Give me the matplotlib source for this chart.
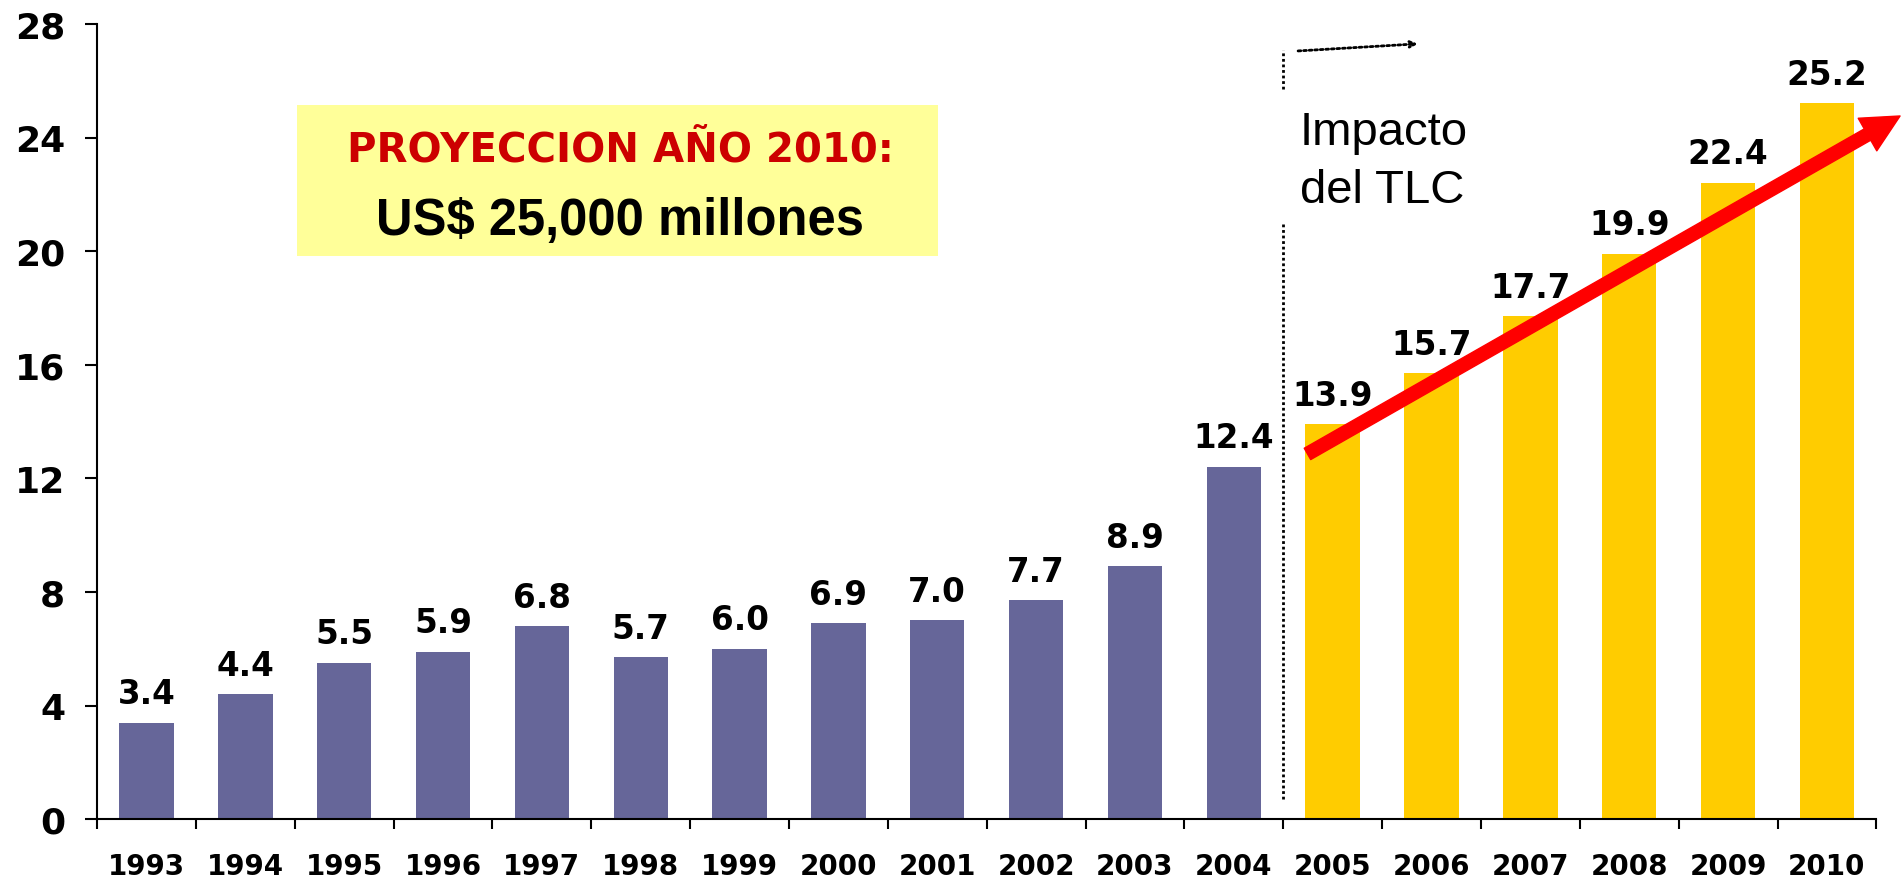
import matplotlib
matplotlib.use("Agg")
import matplotlib.pyplot as plt
from matplotlib.patches import Rectangle, FancyArrowPatch
import numpy as np

# data (US$ billions)
years = [str(y) for y in range(1993, 2011)]
values = [3.4, 4.4, 5.5, 5.9, 6.8, 5.7, 6.0, 6.9, 7.0, 7.7, 8.9, 12.4,
          13.9, 15.7, 17.7, 19.9, 22.4, 25.2]
n_hist = 12  # 1993-2004 actual, 2005-2010 projected
y_ticks = [0, 4, 8, 12, 16, 20, 24, 28]

box_title = "PROYECCION AÑO 2010:"
box_value = "US$ 25,000 millones"
tlc_lines = ["Impacto", "del TLC"]

hist_color = "#666699"
proj_color = "#FFCC00"

fig = plt.figure(figsize=(19.03, 8.79), dpi=100)
ax = fig.add_axes([0.051, 0.067, 0.935, 0.9046])

x = np.arange(len(years))
colors = [hist_color if i < n_hist else proj_color for i in range(len(years))]
ax.bar(x, values, width=0.55, color=colors, zorder=2)

for xi, v in zip(x, values):
    ax.annotate(f"{v:.1f}", (xi, v), xytext=(0, 9), textcoords="offset points",
                ha="center", va="bottom", fontsize=23.5, fontweight="bold",
                family="DejaVu Sans", zorder=4)

ax.set_xlim(-0.5, len(years) - 0.5)
ax.set_ylim(0, 28)
ax.set_yticks(y_ticks)
ax.set_yticklabels([str(t) for t in y_ticks], fontsize=26, fontweight="bold")
ax.tick_params(axis="y", length=9, width=1.5, pad=14, direction="out")

# ticks at category boundaries, labels at the centres
ax.set_xticks(np.arange(-0.5, len(years)), minor=False)
ax.set_xticklabels([""] * (len(years) + 1))
ax.set_xticks(x, minor=True)
ax.set_xticklabels(years, minor=True, fontsize=20, fontweight="bold")
ax.tick_params(axis="x", which="major", length=7, width=1.5, direction="out")
ax.tick_params(axis="x", which="minor", length=0, pad=24)

for s in ["top", "right"]:
    ax.spines[s].set_visible(False)
for s in ["left", "bottom"]:
    ax.spines[s].set_linewidth(1.5)

# yellow projection box
ax.add_patch(Rectangle((0.1124, 0.708), 0.36, 0.19, transform=ax.transAxes,
                       facecolor="#FFFF99", edgecolor="none", zorder=3))
ax.text(0.294, 0.842, box_title, transform=ax.transAxes, ha="center", va="center",
        fontsize=29, fontweight="heavy", color="#CC0000", family="DejaVu Sans",
        zorder=4)
ax.text(0.294, 0.753, box_value, transform=ax.transAxes, ha="center", va="center",
        fontsize=36.5, fontweight="bold", color="black",
        family=["Liberation Sans", "DejaVu Sans"], zorder=4)

# TLC marker: dotted divider, label and small dotted arrow
sep = n_hist - 0.5
ax.plot([sep, sep], [0.7, 21.0], color="black", lw=2, ls=(0, (1, 1)), zorder=3)
ax.plot([sep, sep], [25.7, 27.1], color="black", lw=2, ls=(0, (1, 1)), zorder=3)
for i, line in enumerate(tlc_lines):
    ax.text(sep + 0.17, 23.78 - 2.05 * i, line, ha="left", va="baseline",
            fontsize=34, family=["Liberation Sans", "DejaVu Sans"], zorder=4)
ax.annotate("", xy=(sep + 1.36, 27.3), xytext=(sep + 0.15, 27.05),
            arrowprops=dict(arrowstyle="->", color="black", lw=2,
                            linestyle=(0, (1, 1)), shrinkA=0, shrinkB=0))

# red growth arrow over the projection
growth = FancyArrowPatch((n_hist - 0.255, values[n_hist] - 1.04),
                         (len(years) - 0.26, values[-1] - 0.44),
                         arrowstyle="simple,head_length=27,head_width=27,tail_width=9.4",
                         mutation_scale=1, color="#FF0000", shrinkA=0, shrinkB=0,
                         clip_on=False, zorder=5)
ax.add_patch(growth)

fig.savefig("out.png", dpi=100)
